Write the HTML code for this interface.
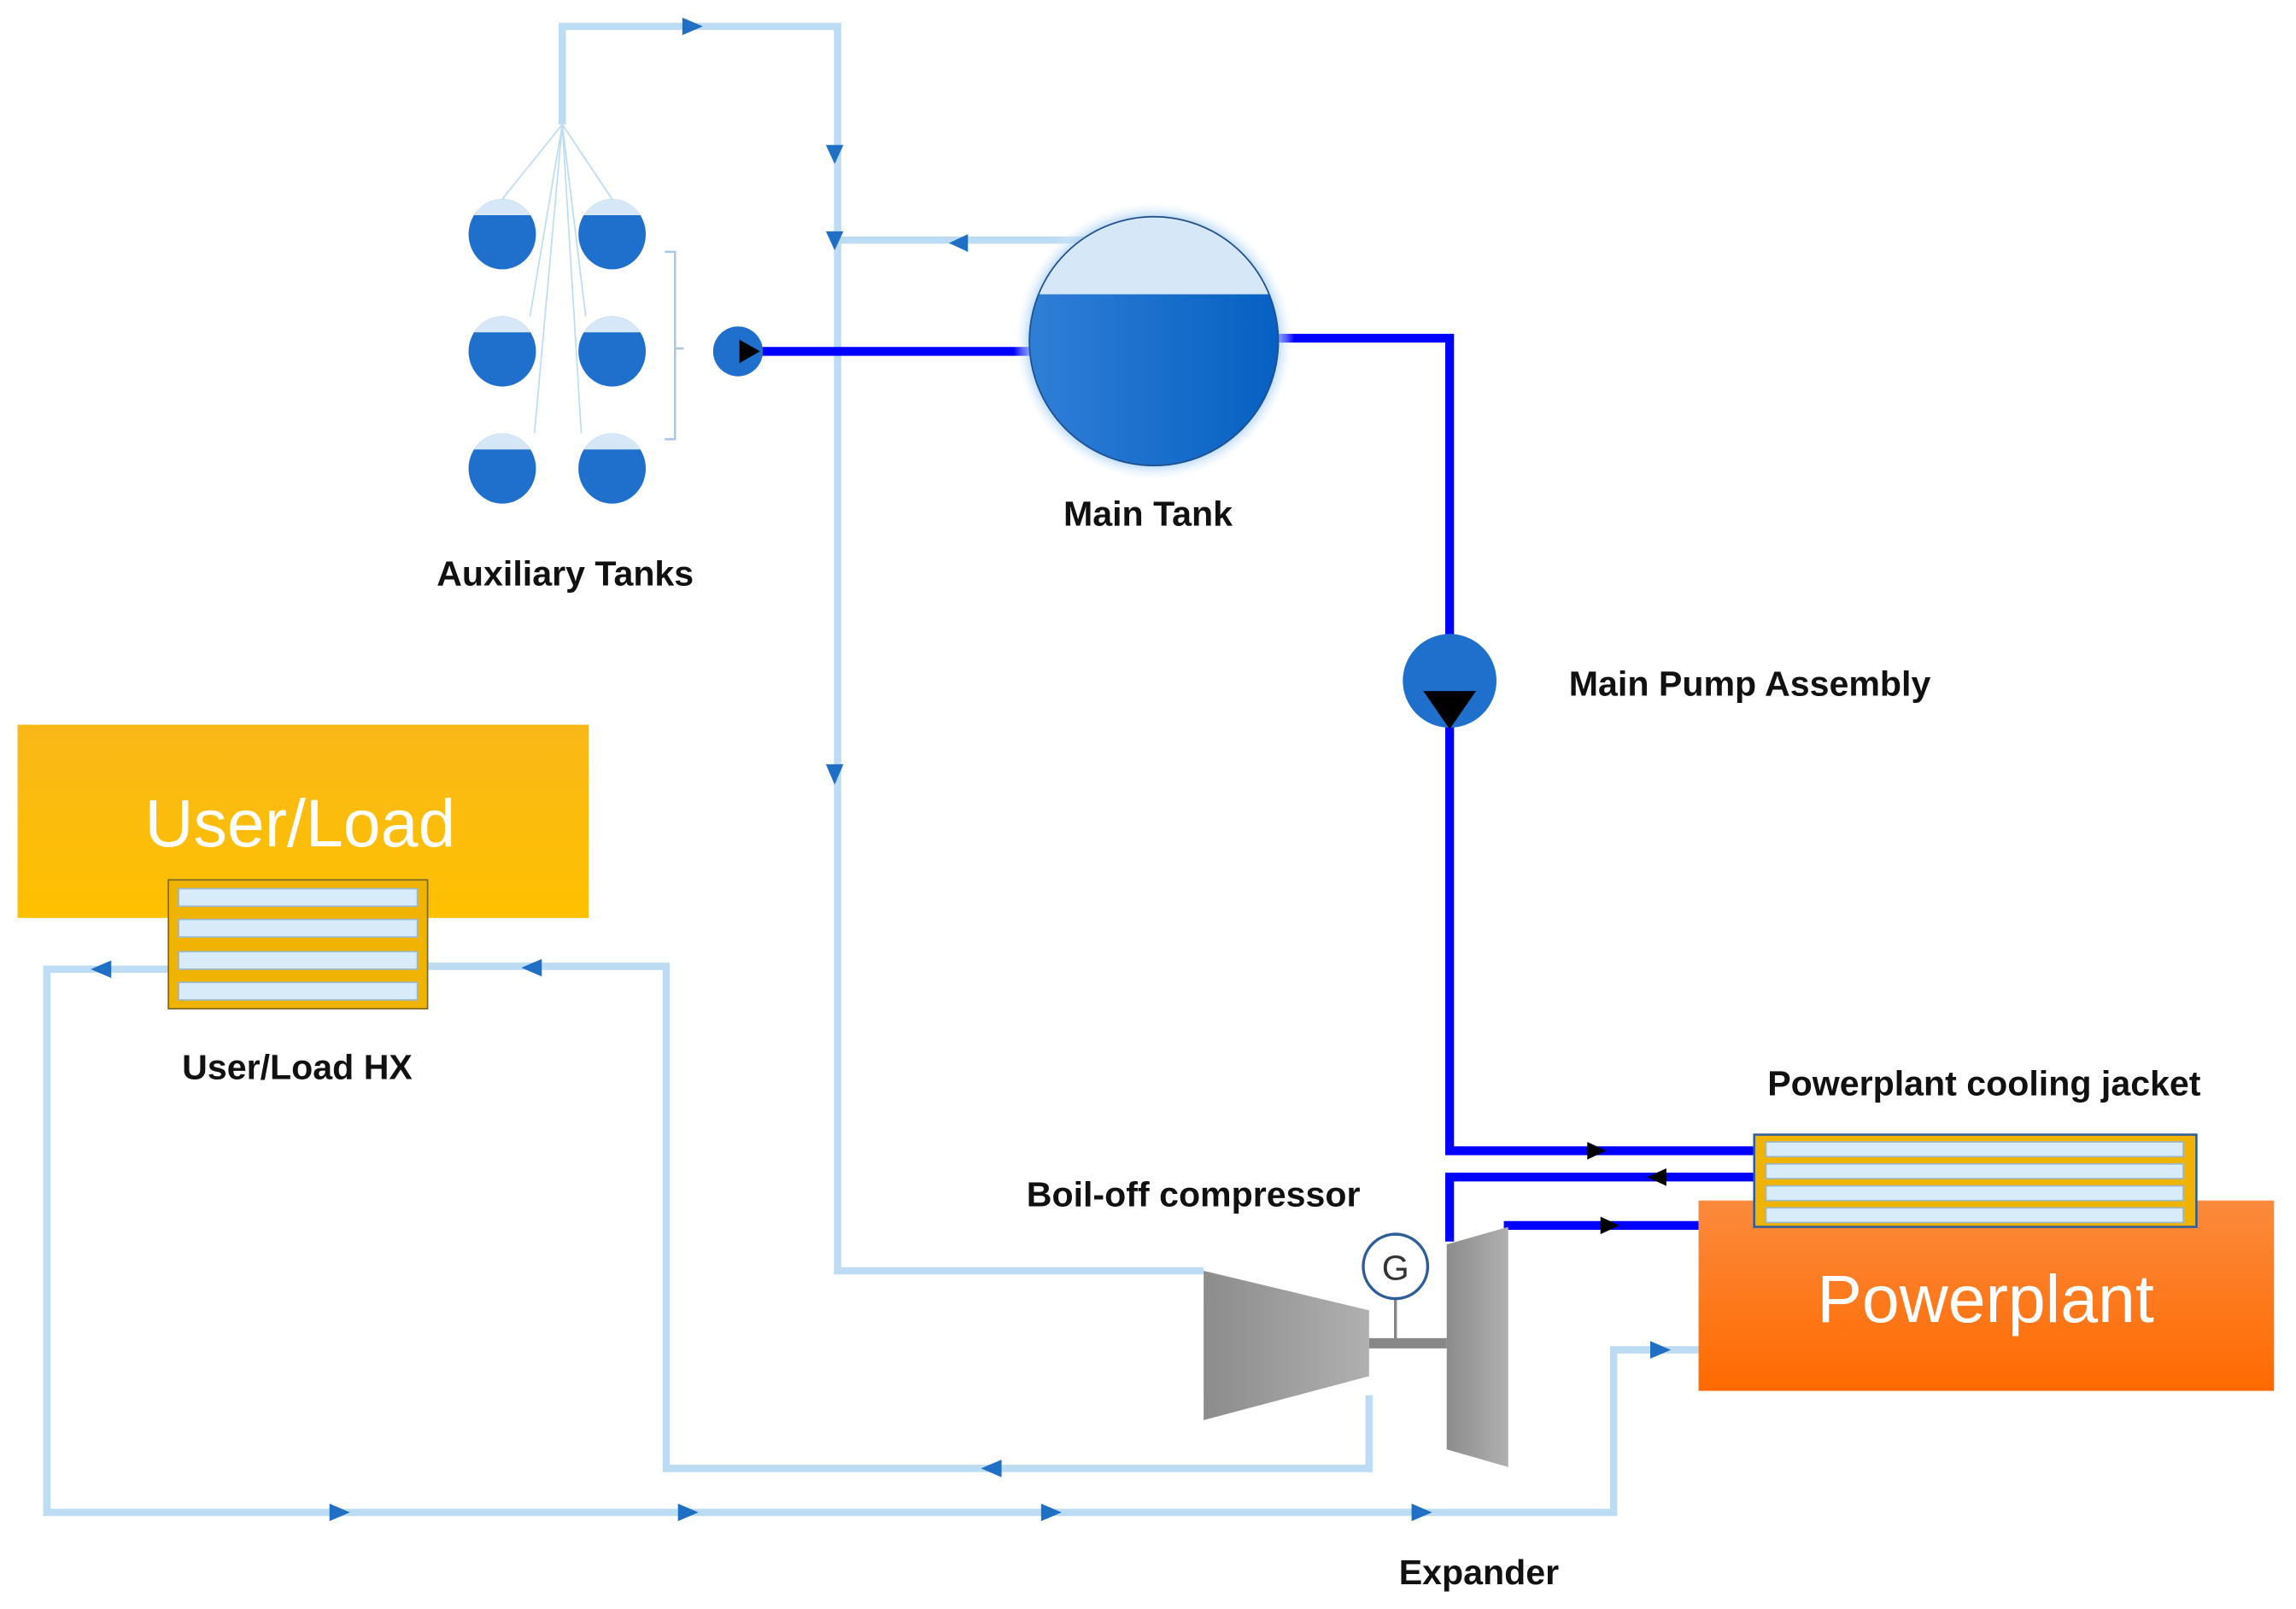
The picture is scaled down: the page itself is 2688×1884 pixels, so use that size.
<!DOCTYPE html>
<html><head><style>html,body{margin:0;padding:0;background:#fff}svg{display:block}</style></head>
<body>
<svg width="2688" height="1884" viewBox="0 0 1568 1099" xmlns="http://www.w3.org/2000/svg" font-family="Liberation Sans, sans-serif">
<defs>
<linearGradient id="ul" x1="0" y1="0" x2="0" y2="1"><stop offset="0" stop-color="#f9b818"/><stop offset="1" stop-color="#ffc000"/></linearGradient>
<linearGradient id="pp" x1="0" y1="0" x2="0" y2="1"><stop offset="0" stop-color="#fb8a3c"/><stop offset="1" stop-color="#ff6a00"/></linearGradient>
<linearGradient id="gr" x1="0" y1="0" x2="1" y2="0"><stop offset="0" stop-color="#8c8c8c"/><stop offset="1" stop-color="#b0b0b0"/></linearGradient>
<linearGradient id="tk" x1="0" y1="0" x2="1" y2="0"><stop offset="0" stop-color="#2f7fd6"/><stop offset="1" stop-color="#0660c2"/></linearGradient>
<radialGradient id="glow"><stop offset="0.85" stop-color="#8fc3f5"/><stop offset="1" stop-color="#ffffff" stop-opacity="0"/></radialGradient>
<clipPath id="mt"><circle cx="788" cy="233" r="85"/></clipPath>
<clipPath id="tc"><ellipse cx="0" cy="0" rx="23" ry="24"/></clipPath>
<g id="t"><ellipse cx="0" cy="0" rx="23" ry="24" fill="#1f6fcc"/><rect x="-24" y="-25" width="48" height="12" fill="#d6e8f7" clip-path="url(#tc)"/></g>
</defs>
<g fill="none" stroke="#bcdcf3" stroke-width="5">
<polyline points="384,85 384,18 572,18 572,868 822,868"/>
<polyline points="740,164 572,164"/>
<polyline points="115,662 32,662 32,1033 1102,1033 1102,922 1160,922"/>
<polyline points="292,660 455,660 455,1003 935,1003 935,953"/>
</g>
<g stroke="#bcdcf3" stroke-width="1">
<line x1="384" y1="85" x2="343" y2="136"/><line x1="384" y1="85" x2="418" y2="136"/>
<line x1="384" y1="85" x2="362" y2="216"/><line x1="384" y1="85" x2="400" y2="216"/>
<line x1="384" y1="85" x2="365" y2="296"/><line x1="384" y1="85" x2="397" y2="296"/>
</g>
<g fill="#1f6fc5">
<polygon points="466,12 480,18 466,24"/>
<polygon points="564,99 576,99 570,112"/>
<polygon points="564,158 576,158 570,171"/>
<polygon points="661,160 648,166 661,172"/>
<polygon points="564,522 576,522 570,536"/>
<polygon points="76,656 62,662 76,668"/>
<polygon points="370,655 356,661 370,667"/>
<polygon points="684,997 670,1003 684,1009"/>
<polygon points="225,1027 239,1033 225,1039"/>
<polygon points="463,1027 477,1033 463,1039"/>
<polygon points="711,1027 725,1033 711,1039"/>
<polygon points="964,1027 978,1033 964,1039"/>
<polygon points="1127,916 1141,922 1127,928"/>
</g>
<use href="#t" x="343" y="160"/><use href="#t" x="418" y="160"/>
<use href="#t" x="343" y="240"/><use href="#t" x="418" y="240"/>
<use href="#t" x="343" y="320"/><use href="#t" x="418" y="320"/>
<polyline points="454,172 461,172 461,300 454,300" fill="none" stroke="#a9c8e6" stroke-width="1.5"/>
<line x1="461" y1="238" x2="467" y2="238" stroke="#a9c8e6" stroke-width="1.5"/>
<g fill="none" stroke="#0000ff" stroke-width="6">
<line x1="515" y1="240" x2="705" y2="240"/>
<polyline points="873,231 990,231 990,786 1198,786"/>
<polyline points="1198,804 990,804 990,848"/>
<polyline points="1030,840 1030,837 1160,837"/>
</g>
<circle cx="504" cy="240" r="17" fill="#1f6fcc"/>
<polygon points="505,232 519,240 505,248" fill="#000"/>
<circle cx="788" cy="233" r="96" fill="url(#glow)"/>
<circle cx="788" cy="233" r="85" fill="url(#tk)"/>
<rect x="700" y="140" width="180" height="61" fill="#d6e8f7" clip-path="url(#mt)"/>
<circle cx="788" cy="233" r="85" fill="none" stroke="#1e4f8a" stroke-width="1"/>
<circle cx="990" cy="465" r="32" fill="#1f6fcc"/>
<polygon points="972,472 1008,472 990,498" fill="#000"/>
<g fill="#000">
<polygon points="1084,780 1097,786 1084,792"/>
<polygon points="1138,798 1125,804 1138,810"/>
<polygon points="1093,831 1106,837 1093,843"/>
</g>
<rect x="12" y="495" width="390" height="132" fill="url(#ul)"/>
<text x="205" y="578" font-size="46" fill="#fff" text-anchor="middle">User/Load</text>
<rect x="1160" y="820" width="393" height="130" fill="url(#pp)"/>
<text x="1356" y="903" font-size="46" fill="#fff" text-anchor="middle">Powerplant</text>
<rect x="115" y="601" width="177" height="88" fill="#f0b400" stroke="#7a6a30" stroke-width="1"/>
<g fill="#d8ebf8" stroke="#9bb8cc" stroke-width="1">
<rect x="122" y="607" width="163" height="12"/><rect x="122" y="628" width="163" height="12"/>
<rect x="122" y="650" width="163" height="12"/><rect x="122" y="671" width="163" height="12"/>
</g>
<rect x="1198" y="775" width="302" height="63" fill="#f0b400" stroke="#2e5e9a" stroke-width="1.5"/>
<g fill="#d8ebf8" stroke="#9bb8cc" stroke-width="1">
<rect x="1206" y="780" width="285" height="10"/><rect x="1206" y="795" width="285" height="10"/>
<rect x="1206" y="810" width="285" height="10"/><rect x="1206" y="825" width="285" height="10"/>
</g>
<polygon points="822,868 935,895 935,940 822,970" fill="url(#gr)"/>
<polygon points="988,850 1030,838 1030,1002 988,990" fill="url(#gr)"/>
<rect x="935" y="914" width="53" height="7" fill="#888"/>
<line x1="953" y1="887" x2="953" y2="916" stroke="#888" stroke-width="2"/>
<circle cx="953" cy="865" r="22" fill="#fff" stroke="#2e5e9a" stroke-width="2"/>
<text x="953" y="874" font-size="24" text-anchor="middle" fill="#333">G</text>
<g font-weight="bold" font-size="24" fill="#111" text-anchor="middle">
<text x="386" y="400">Auxiliary Tanks</text>
<text x="784" y="359">Main Tank</text>
<text x="1195" y="475">Main Pump Assembly</text>
<text x="203" y="737">User/Load HX</text>
<text x="1355" y="748">Powerplant cooling jacket</text>
<text x="815" y="824">Boil-off compressor</text>
<text x="1010" y="1082">Expander</text>
</g>
</svg>
</body></html>
